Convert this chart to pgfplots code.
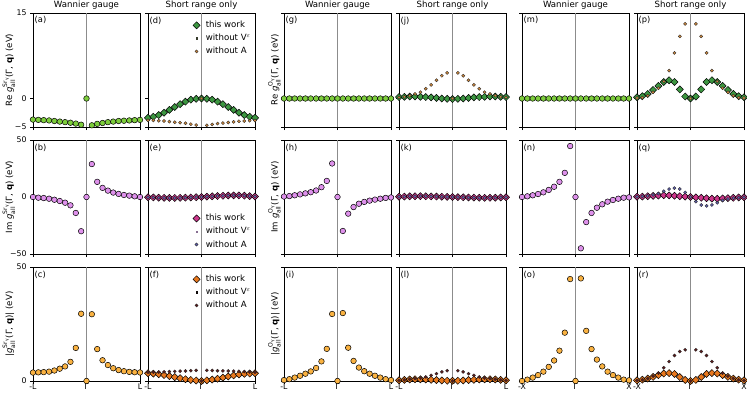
\documentclass[border=0pt]{standalone}
\usepackage{amsmath}
\usepackage{fontspec}
\setmainfont{DejaVu Sans}
\usepackage{pgfplots}
\usepackage{pgfplotstable}
\pgfplotsset{compat=1.18}

\newcommand\tickf{\fontsize{7.8}{9}\selectfont}
\newcommand\labf{\fontsize{8.6}{10}\selectfont}
\newcommand\plabf{\fontsize{8.3}{10}\selectfont}
\newcommand\legf{\fontsize{8.6}{10}\selectfont}
\newcommand\titf{\fontsize{8.6}{10}\selectfont}

\definecolor{wanG}{RGB}{125,205,60}
\definecolor{twG}{RGB}{60,150,65}
\definecolor{wvG}{RGB}{55,60,45}
\definecolor{waG}{RGB}{205,135,60}
\definecolor{wanP}{RGB}{222,145,235}
\definecolor{twP}{RGB}{205,55,140}
\definecolor{wvP}{RGB}{135,110,145}
\definecolor{waP}{RGB}{95,95,170}
\definecolor{wanO}{RGB}{250,178,65}
\definecolor{twO}{RGB}{232,120,30}
\definecolor{wvO}{RGB}{15,10,10}
\definecolor{waO}{RGB}{95,25,25}

\pgfplotstableread{
x a dT dV dA g jT jV jA m pT pV pA
-1.0 -3.70 -3.40 -3.40 -3.80 0 0.25 0.25 0.20 0 0.20 0.20 0.10
-0.9 -3.75 -3.20 -3.20 -3.85 0 0.30 0.30 0.30 0 0.40 0.40 0.15
-0.8 -3.80 -2.90 -2.90 -3.90 0 0.35 0.35 0.50 0 0.80 0.80 0.50
-0.7 -3.85 -2.50 -2.50 -3.95 0 0.35 0.35 0.80 0 1.50 1.50 1.10
-0.6 -3.95 -2.00 -2.00 -4.05 0 0.30 0.30 1.10 0 2.20 2.20 1.80
-0.5 -4.05 -1.50 -1.50 -4.15 0 0.25 0.25 1.70 0 2.90 2.90 3.00
-0.4 -4.15 -1.00 -1.00 -4.25 0 0.20 0.20 2.40 0 3.20 3.20 4.90
-0.3 -4.25 -0.55 -0.55 -4.35 0 0.10 0.10 3.20 0 2.90 2.90 8.00
-0.2 -4.40 -0.20 -0.20 -4.50 0 0.00 0.00 4.00 0 1.60 1.60 10.90
-0.1 -4.60 -0.05 -0.05 -4.65 0 -0.05 -0.05 4.50 0 0.35 0.35 13.10
0.0 0.00 0.00 0.00 0.00 0 -0.10 -0.10 0.00 0 0.00 0.00 0.00
0.1 -4.70 -0.05 -0.05 -4.70 0 -0.05 -0.05 4.50 0 0.35 0.35 13.10
0.2 -4.45 -0.20 -0.20 -4.55 0 0.00 0.00 4.00 0 1.60 1.60 10.90
0.3 -4.30 -0.55 -0.55 -4.40 0 0.10 0.10 3.20 0 2.90 2.90 8.00
0.4 -4.15 -1.00 -1.00 -4.30 0 0.20 0.20 2.40 0 3.20 3.20 4.90
0.5 -4.05 -1.50 -1.50 -4.20 0 0.25 0.25 1.70 0 2.90 2.90 3.00
0.6 -3.95 -2.00 -2.00 -4.10 0 0.30 0.30 1.10 0 2.20 2.20 1.80
0.7 -3.90 -2.50 -2.50 -4.00 0 0.35 0.35 0.80 0 1.50 1.50 1.10
0.8 -3.85 -2.90 -2.90 -3.95 0 0.35 0.35 0.50 0 0.80 0.80 0.50
0.9 -3.80 -3.20 -3.20 -3.90 0 0.30 0.30 0.30 0 0.40 0.40 0.15
1.0 -3.75 -3.40 -3.40 -3.85 0 0.25 0.25 0.20 0 0.20 0.20 0.10
}\rowone

\pgfplotstableread{
x b eT eV eA h kT kV kA n qT qV qA
-1.0 0.0 -0.20 -0.20 -0.20 0.4 0.20 0.20 0.20 0.0 0.2 0.2 0.2
-0.9 -0.6 -0.40 -0.40 -0.40 0.8 0.40 0.40 0.40 0.6 0.4 0.4 0.5
-0.8 -0.9 -0.60 -0.60 -0.60 1.5 0.60 0.60 0.60 1.5 0.7 0.7 1.0
-0.7 -1.5 -0.75 -0.75 -0.75 2.3 0.70 0.70 0.70 2.6 1.0 1.0 1.8
-0.6 -2.4 -0.80 -0.80 -0.80 3.2 0.70 0.70 0.70 4.1 1.3 1.3 3.0
-0.5 -3.5 -0.80 -0.80 -0.80 4.2 0.60 0.60 0.60 6.2 1.5 1.5 5.0
-0.4 -5.0 -0.70 -0.70 -0.70 5.7 0.50 0.50 0.50 9.0 1.4 1.4 7.0
-0.3 -7.3 -0.55 -0.55 -0.55 8.6 0.40 0.40 0.40 13.3 1.1 1.1 7.8
-0.2 -14.0 -0.40 -0.40 -0.40 14.1 0.25 0.25 0.25 21.2 0.7 0.7 7.0
-0.1 -30.0 -0.20 -0.20 -0.20 29.4 0.10 0.10 0.10 44.7 0.3 0.3 4.0
0.0 0.0 0.00 0.00 0.00 0.0 0.00 0.00 0.00 0.0 0.0 0.0 0.0
0.1 28.9 0.30 0.30 0.30 -29.8 -0.10 -0.10 -0.10 -45.0 -0.3 -0.3 -4.0
0.2 13.3 0.60 0.60 0.60 -14.6 -0.25 -0.25 -0.25 -22.0 -0.7 -0.7 -7.0
0.3 8.0 0.85 0.85 0.85 -8.8 -0.40 -0.40 -0.40 -14.0 -1.1 -1.1 -7.8
0.4 5.6 1.10 1.10 1.10 -5.9 -0.50 -0.50 -0.50 -9.4 -1.4 -1.4 -7.0
0.5 3.9 1.30 1.30 1.30 -4.3 -0.60 -0.60 -0.60 -6.4 -1.5 -1.5 -5.0
0.6 2.7 1.40 1.40 1.40 -3.2 -0.70 -0.70 -0.70 -4.1 -1.3 -1.3 -3.0
0.7 1.8 1.40 1.40 1.40 -2.3 -0.70 -0.70 -0.70 -2.6 -1.0 -1.0 -1.8
0.8 1.2 1.20 1.20 1.20 -1.5 -0.60 -0.60 -0.60 -1.5 -0.7 -0.7 -1.0
0.9 0.6 0.80 0.80 0.80 -0.8 -0.40 -0.40 -0.40 -0.6 -0.4 -0.4 -0.5
1.0 0.0 0.40 0.40 0.40 -0.4 -0.20 -0.20 -0.20 -0.3 -0.2 -0.2 -0.2
}\rowtwo

\pgfplotstableread{
x c fT fV fA i lT lV lA o rT rV rA
-1.0 3.70 3.40 3.40 3.81 0.4 0.32 0.32 0.28 0.0 0.28 0.28 0.22
-0.9 3.80 3.22 3.22 3.87 0.8 0.50 0.50 0.50 0.6 0.57 0.57 0.52
-0.8 3.90 2.96 2.96 3.95 1.5 0.69 0.69 0.78 1.5 1.06 1.06 1.12
-0.7 4.10 2.61 2.61 4.02 2.3 0.78 0.78 1.06 2.6 1.80 1.80 2.11
-0.6 4.60 2.15 2.15 4.13 3.2 0.76 0.76 1.30 4.1 2.56 2.56 3.50
-0.5 5.40 1.70 1.70 4.23 4.2 0.65 0.65 1.80 6.2 3.26 3.26 5.83
-0.4 6.40 1.22 1.22 4.31 5.7 0.54 0.54 2.45 9.0 3.49 3.49 8.54
-0.3 8.40 0.78 0.78 4.38 8.6 0.41 0.41 3.22 13.3 3.10 3.10 11.17
-0.2 14.50 0.45 0.45 4.52 14.1 0.25 0.25 4.00 21.2 1.75 1.75 12.95
-0.1 29.50 0.21 0.21 4.65 29.4 0.11 0.11 4.50 44.7 0.46 0.46 13.70
0.0 0.00 0.00 0.00 0.00 0.0 0.10 0.10 0.00 0.0 0.00 0.00 0.00
0.1 29.30 0.30 0.30 4.71 29.8 0.11 0.11 4.50 45.0 0.46 0.46 13.70
0.2 14.00 0.63 0.63 4.59 14.6 0.25 0.25 4.00 22.0 1.75 1.75 12.95
0.3 9.10 1.01 1.01 4.48 8.8 0.41 0.41 3.22 14.0 3.10 3.10 11.17
0.4 7.00 1.49 1.49 4.44 5.9 0.54 0.54 2.45 9.4 3.49 3.49 8.54
0.5 5.60 1.98 1.98 4.39 4.3 0.65 0.65 1.80 6.4 3.26 3.26 5.83
0.6 4.80 2.44 2.44 4.33 3.2 0.76 0.76 1.30 4.1 2.56 2.56 3.50
0.7 4.30 2.87 2.87 4.24 2.3 0.78 0.78 1.06 2.6 1.80 1.80 2.11
0.8 4.00 3.14 3.14 4.13 1.5 0.69 0.69 0.78 1.5 1.06 1.06 1.12
0.9 3.85 3.30 3.30 3.98 0.8 0.50 0.50 0.50 0.6 0.57 0.57 0.52
1.0 3.75 3.42 3.42 3.87 0.4 0.32 0.32 0.28 0.3 0.28 0.28 0.22
}\rowthree

\tikzset{plab/.style={anchor=north west, font=\plabf, inner sep=0pt, xshift=1.5pt, yshift=-3.5pt}}

\pgfplotsset{
  every axis title shift=0pt,
  base/.style={scale only axis, width=107pt, height=114pt, anchor=south west,
    xmin=-1, xmax=1, clip=false, xtick={-1,0,1}, xticklabels={}, yticklabels={},
    tick align=outside, tick pos=left, major tick length=3pt,
    every tick/.style={black, line width=0.6pt}, axis line style={line width=0.7pt},
    ticklabel style={font=\tickf}, xticklabel style={inner sep=0.5pt, yshift=0.5pt},
    every axis y label/.style={rotate=90, anchor=center, font=\labf},
    title style={font=\titf, at={(0.5,1)}, anchor=base, inner sep=0pt, yshift=5.6pt},
    legend cell align=left,
    legend image code/.code={\path (-4pt,0pt) (7pt,0pt); \draw[##1] plot coordinates {(0pt,0pt)};},
    legend style={draw=none, fill=none, font=\legf, inner sep=1pt, row sep=1pt}},
  row1/.style={ymin=-5, ymax=15, ytick={-5,0,15}},
  row2/.style={ymin=-50, ymax=50, ytick={-50,0,50}},
  row3/.style={ymin=0, ymax=50, ytick={0,50}},
  wan/.style={only marks, mark=*, mark size=2.8pt, mark options={draw=black, fill=#1, line width=0.5pt}},
  tw/.style={only marks, mark=square*, mark size=2.5pt, mark options={rotate=45, draw=black, fill=#1, line width=0.5pt}},
  wv/.style={only marks, mark=square*, mark size=0.8pt, mark options={draw=#1, fill=#1, line width=0.2pt}},
  wa/.style={only marks, mark=*, mark size=1.6pt, mark options={draw=black!85, fill=#1, line width=0.35pt}},
  vline/.style={black!45, line width=0.8pt, forget plot, no marks},
  topleg/.style={legend style={at={(0.99,0.955)}, anchor=north east}},
  botleg/.style={legend style={at={(0.99,0.02)}, anchor=south east}},
}

\begin{document}
\begin{tikzpicture}
\useasboundingbox (0pt,0pt) rectangle (747pt,392pt);

% ===== Row 1 =====
\begin{axis}[base, row1, at={(33pt,265pt)}, yticklabels={−5,0,15}, title={Wannier gauge},
  ylabel={Re $\textit{g}^{\text{Sr}_{\text{γ}}}_{\text{all}}$(Γ, \textbf{q}) (eV)},
  ylabel style={at={(rel axis cs:-0.225,0.5)}}]
\addplot[vline] coordinates {(0,-5) (0,15)};
\addplot[wan=wanG] table[x=x,y=a]{\rowone};
\node[plab] at (rel axis cs:0,1) {(a)};
\end{axis}

\begin{axis}[base, row1, at={(148pt,265pt)}, title={Short range only}, topleg]
\addplot[vline] coordinates {(0,-5) (0,15)};
\addplot[wv=wvG, forget plot] table[x=x,y=dV]{\rowone};
\addplot[tw=twG] table[x=x,y=dT]{\rowone};
\addlegendimage{wv=wvG}
\addplot[wa=waG] table[x=x,y=dA]{\rowone};
\legend{this work, without V$^{\varepsilon}$, without A}
\node[plab] at (rel axis cs:0,1) {(d)};
\end{axis}

\begin{axis}[base, row1, at={(284pt,265pt)}, title={Wannier gauge},
  ylabel={Re $\textit{g}^{\text{O}_{\text{γ}}}_{\text{all}}$(Γ, \textbf{q}) (eV)},
  ylabel style={at={(rel axis cs:-0.09,0.5)}}]
\addplot[vline] coordinates {(0,-5) (0,15)};
\addplot[wan=wanG] table[x=x,y=g]{\rowone};
\node[plab] at (rel axis cs:0,1) {(g)};
\end{axis}

\begin{axis}[base, row1, at={(399pt,265pt)}, title={Short range only}]
\addplot[vline] coordinates {(0,-5) (0,15)};
\addplot[wv=wvG] table[x=x,y=jV]{\rowone};
\addplot[tw=twG] table[x=x,y=jT]{\rowone};
\addplot[wa=waG] table[x=x,y=jA]{\rowone};
\node[plab] at (rel axis cs:0,1) {(j)};
\end{axis}

\begin{axis}[base, row1, at={(522pt,265pt)}, title={Wannier gauge}]
\addplot[vline] coordinates {(0,-5) (0,15)};
\addplot[wan=wanG] table[x=x,y=m]{\rowone};
\node[plab] at (rel axis cs:0,1) {(m)};
\end{axis}

\begin{axis}[base, row1, at={(637pt,265pt)}, title={Short range only}]
\addplot[vline] coordinates {(0,-5) (0,15)};
\addplot[wv=wvG] table[x=x,y=pV]{\rowone};
\addplot[tw=twG] table[x=x,y=pT]{\rowone};
\addplot[wa=waG] table[x=x,y=pA]{\rowone};
\node[plab] at (rel axis cs:0,1) {(p)};
\end{axis}

% ===== Row 2 =====
\begin{axis}[base, row2, at={(33pt,138pt)}, yticklabels={−50,0,50},
  ylabel={Im $\textit{g}^{\text{Sr}_{\text{γ}}}_{\text{all}}$(Γ, \textbf{q}) (eV)},
  ylabel style={at={(rel axis cs:-0.225,0.5)}}]
\addplot[vline] coordinates {(0,-50) (0,50)};
\addplot[wan=wanP] table[x=x,y=b]{\rowtwo};
\node[plab] at (rel axis cs:0,1) {(b)};
\end{axis}

\begin{axis}[base, row2, at={(148pt,138pt)}, botleg]
\addplot[vline] coordinates {(0,-50) (0,50)};
\addplot[wv=wvP, forget plot] table[x=x,y=eV]{\rowtwo};
\addplot[tw=twP] table[x=x,y=eT]{\rowtwo};
\addlegendimage{wv=wvP}
\addplot[wa=waP] table[x=x,y=eA]{\rowtwo};
\legend{this work, without V$^{\varepsilon}$, without A}
\node[plab] at (rel axis cs:0,1) {(e)};
\end{axis}

\begin{axis}[base, row2, at={(284pt,138pt)},
  ylabel={Im $\textit{g}^{\text{O}_{\text{γ}}}_{\text{all}}$(Γ, \textbf{q}) (eV)},
  ylabel style={at={(rel axis cs:-0.09,0.5)}}]
\addplot[vline] coordinates {(0,-50) (0,50)};
\addplot[wan=wanP] table[x=x,y=h]{\rowtwo};
\node[plab] at (rel axis cs:0,1) {(h)};
\end{axis}

\begin{axis}[base, row2, at={(399pt,138pt)}]
\addplot[vline] coordinates {(0,-50) (0,50)};
\addplot[wv=wvP] table[x=x,y=kV]{\rowtwo};
\addplot[tw=twP] table[x=x,y=kT]{\rowtwo};
\addplot[wa=waP] table[x=x,y=kA]{\rowtwo};
\node[plab] at (rel axis cs:0,1) {(k)};
\end{axis}

\begin{axis}[base, row2, at={(522pt,138pt)}]
\addplot[vline] coordinates {(0,-50) (0,50)};
\addplot[wan=wanP] table[x=x,y=n]{\rowtwo};
\node[plab] at (rel axis cs:0,1) {(n)};
\end{axis}

\begin{axis}[base, row2, at={(637pt,138pt)}]
\addplot[vline] coordinates {(0,-50) (0,50)};
\addplot[wv=wvP] table[x=x,y=qV]{\rowtwo};
\addplot[tw=twP] table[x=x,y=qT]{\rowtwo};
\addplot[wa=waP] table[x=x,y=qA]{\rowtwo};
\node[plab] at (rel axis cs:0,1) {(q)};
\end{axis}

% ===== Row 3 =====
\begin{axis}[base, row3, at={(33pt,11pt)}, yticklabels={0,50}, xticklabels={-L,Γ,L},
  ylabel={|$\textit{g}^{\text{Sr}_{\text{γ}}}_{\text{all}}$(Γ, \textbf{q})| (eV)},
  ylabel style={at={(rel axis cs:-0.225,0.5)}}]
\addplot[vline] coordinates {(0,0) (0,50)};
\addplot[wan=wanO] table[x=x,y=c]{\rowthree};
\node[plab] at (rel axis cs:0,1) {(c)};
\end{axis}

\begin{axis}[base, row3, at={(148pt,11pt)}, xticklabels={-L,Γ,L}, topleg]
\addplot[vline] coordinates {(0,0) (0,50)};
\addplot[wv=wvO, forget plot] table[x=x,y=fV]{\rowthree};
\addplot[tw=twO] table[x=x,y=fT]{\rowthree};
\addlegendimage{wv=wvO}
\addplot[wa=waO] table[x=x,y=fA]{\rowthree};
\legend{this work, without V$^{\varepsilon}$, without A}
\node[plab] at (rel axis cs:0,1) {(f)};
\end{axis}

\begin{axis}[base, row3, at={(284pt,11pt)}, xticklabels={-L,Γ,L},
  ylabel={|$\textit{g}^{\text{O}_{\text{γ}}}_{\text{all}}$(Γ, \textbf{q})| (eV)},
  ylabel style={at={(rel axis cs:-0.09,0.5)}}]
\addplot[vline] coordinates {(0,0) (0,50)};
\addplot[wan=wanO] table[x=x,y=i]{\rowthree};
\node[plab] at (rel axis cs:0,1) {(i)};
\end{axis}

\begin{axis}[base, row3, at={(399pt,11pt)}, xticklabels={-L,Γ,L}]
\addplot[vline] coordinates {(0,0) (0,50)};
\addplot[wv=wvO] table[x=x,y=lV]{\rowthree};
\addplot[tw=twO] table[x=x,y=lT]{\rowthree};
\addplot[wa=waO] table[x=x,y=lA]{\rowthree};
\node[plab] at (rel axis cs:0,1) {(l)};
\end{axis}

\begin{axis}[base, row3, at={(522pt,11pt)}, xticklabels={-X,Γ,X}]
\addplot[vline] coordinates {(0,0) (0,50)};
\addplot[wan=wanO] table[x=x,y=o]{\rowthree};
\node[plab] at (rel axis cs:0,1) {(o)};
\end{axis}

\begin{axis}[base, row3, at={(637pt,11pt)}, xticklabels={-X,Γ,X}]
\addplot[vline] coordinates {(0,0) (0,50)};
\addplot[wv=wvO] table[x=x,y=rV]{\rowthree};
\addplot[tw=twO] table[x=x,y=rT]{\rowthree};
\addplot[wa=waO] table[x=x,y=rA]{\rowthree};
\node[plab] at (rel axis cs:0,1) {(r)};
\end{axis}
\end{tikzpicture}
\end{document}
